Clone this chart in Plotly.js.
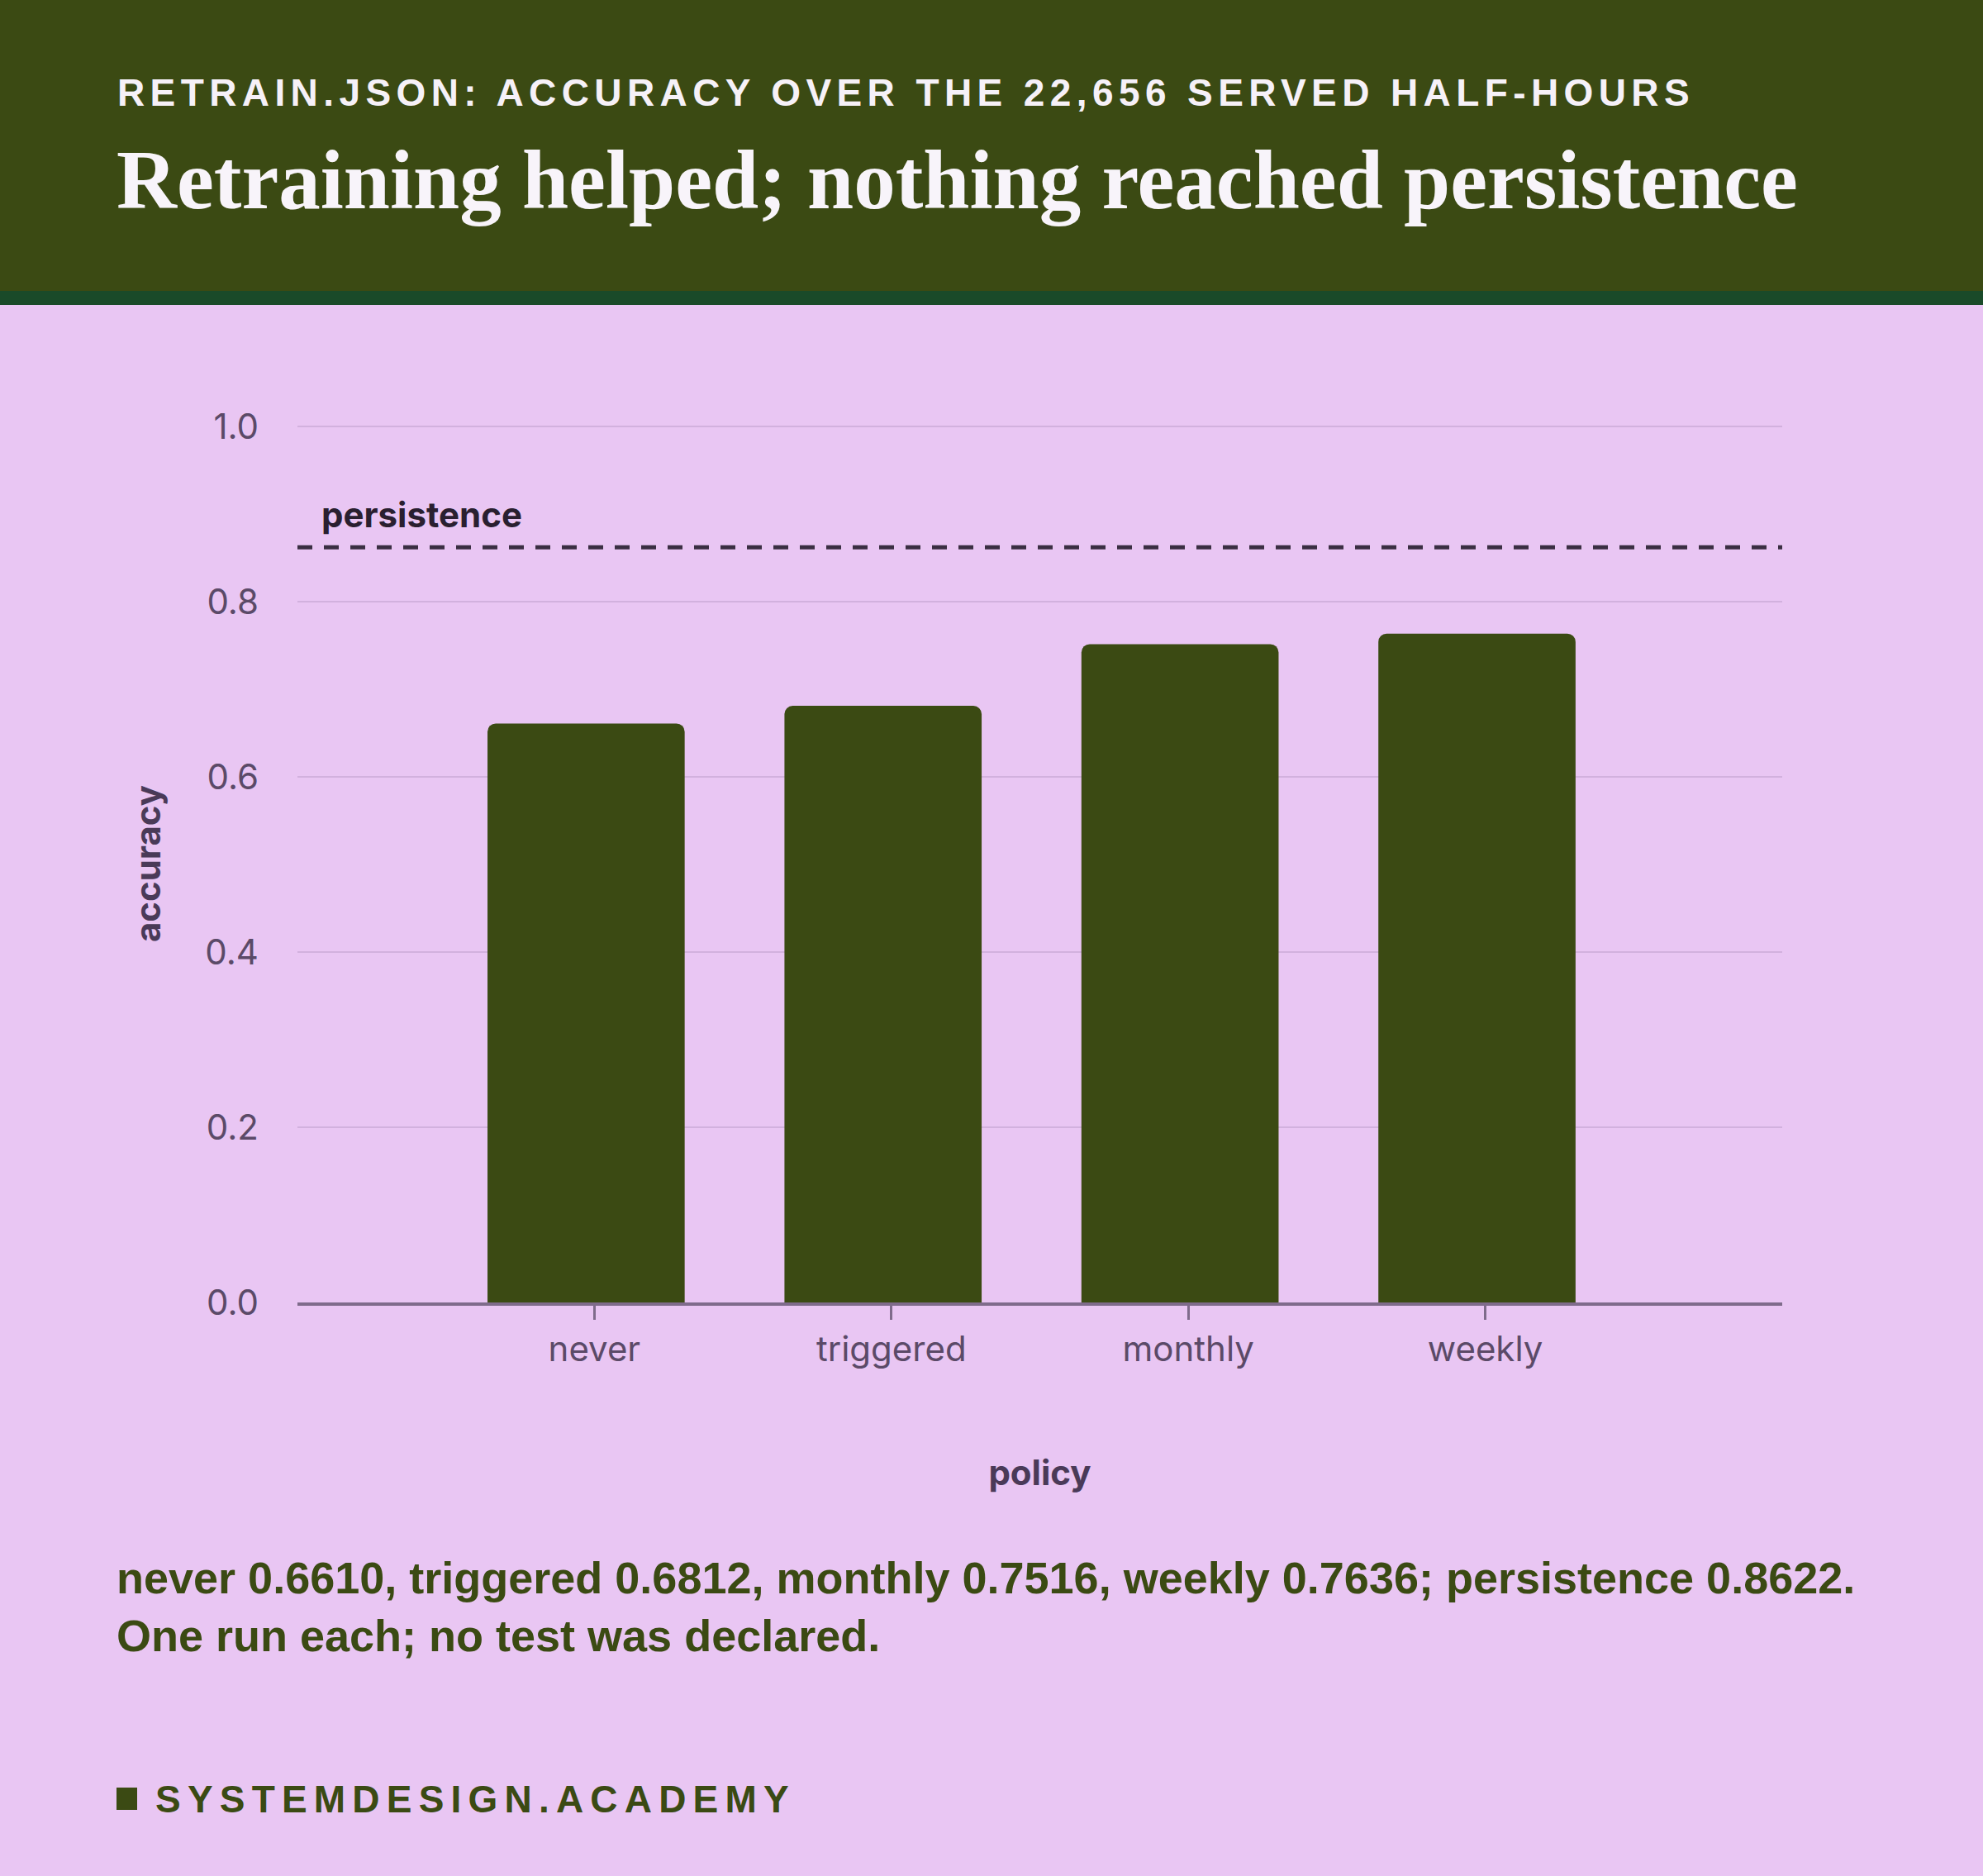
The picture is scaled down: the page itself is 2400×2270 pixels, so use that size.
<!DOCTYPE html>
<html>
<head>
<meta charset="utf-8">
<script src="https://cdn.plot.ly/plotly-3.0.1.min.js"></script>
<style>
  html, body { margin: 0; padding: 0; background: #e9c6f3; }
  #chart { width: 2400px; height: 2270px; }
  .annotation[data-index="0"] text { letter-spacing: 6.4px; }
  .annotation[data-index="4"] text { letter-spacing: 8.2px; }
</style>
</head>
<body>
<div id="chart"></div>
<script>
// ---- data ----
const policies = ['never', 'triggered', 'monthly', 'weekly'];
const accuracy = [0.6610, 0.6812, 0.7516, 0.7636];
const persistence = 0.8622;
const yTickVals = [0, 0.2, 0.4, 0.6, 0.8, 1.0];
const kicker = 'RETRAIN.JSON: ACCURACY OVER THE 22,656 SERVED HALF-HOURS';
const headline = 'Retraining helped; nothing reached persistence';
const note2 = 'One run each; no test was declared.';
const brand = 'SYSTEMDESIGN.ACADEMY';

// ---- style ----
const W = 2400, H = 2270;
const L = 360, R = 2157, T = 514, B = 1576;
const PW = R - L, PH = B - T;
const px = x => (x - L) / PW;
const py = y => (B - y) / PH;
const olive = '#3b4a13';
const bg = '#e9c6f3';
const sans = 'Inter, "Liberation Sans", Arial, sans-serif';
const capsFont = '"Liberation Sans", Arial, sans-serif';

const caption = policies.map((p, i) => p + ' ' + accuracy[i].toFixed(4)).join(', ')
  + '; persistence ' + persistence.toFixed(4) + '.<br>' + note2;

const traces = [{
  type: 'bar',
  x: policies,
  y: accuracy,
  width: 0.664,
  offset: -0.36,
  marker: { color: olive, line: { width: 0 } },
  hoverinfo: 'x+y',
  showlegend: false
}];

const layout = {
  width: W, height: H,
  margin: { l: L, r: W - R, t: T, b: H - B, pad: 0 },
  paper_bgcolor: bg,
  plot_bgcolor: 'rgba(0,0,0,0)',
  barcornerradius: 10,
  showlegend: false,
  xaxis: {
    type: 'category',
    range: [-1, 4],
    showgrid: false,
    zeroline: false,
    showline: true,
    linecolor: '#7f6b8b',
    linewidth: 4,
    ticks: 'outside',
    ticklen: 17,
    tickwidth: 3,
    tickcolor: '#7f6b8b',
    ticklabelstandoff: 0,
    tickfont: { family: sans, size: 42, color: '#5b4a68' },
    title: { text: 'policy', standoff: 112, font: { family: sans, size: 42, weight: 700, color: '#4a3a58' } },
    fixedrange: true
  },
  yaxis: {
    range: [0, 1.002],
    tickvals: yTickVals,
    tickformat: '.1f',
    showgrid: true,
    gridcolor: '#d2b1de',
    gridwidth: 2,
    zeroline: false,
    showline: false,
    ticks: '',
    ticklabelstandoff: 46,
    tickfont: { family: sans, size: 42, color: '#5b4a68' },
    title: { text: 'accuracy', standoff: 40, font: { family: sans, size: 42, weight: 700, color: '#4a3a58' } },
    fixedrange: true
  },
  shapes: [
    { type: 'rect', xref: 'paper', yref: 'paper', x0: px(0), x1: px(W), y0: py(352), y1: py(0),
      fillcolor: olive, line: { width: 0 }, layer: 'below' },
    { type: 'rect', xref: 'paper', yref: 'paper', x0: px(0), x1: px(W), y0: py(369), y1: py(352),
      fillcolor: '#1a4a29', line: { width: 0 }, layer: 'below' },
    { type: 'line', xref: 'paper', yref: 'y', x0: 0, x1: 1, y0: persistence, y1: persistence,
      line: { color: '#3a2e42', width: 5, dash: '18px,14px' } },
    { type: 'rect', xref: 'paper', yref: 'paper', x0: px(141), x1: px(166), y0: py(2190), y1: py(2163),
      fillcolor: olive, line: { width: 0 } }
  ],
  annotations: [
    { text: kicker, xref: 'paper', yref: 'paper', x: px(140), y: py(84), xanchor: 'left', yanchor: 'top',
      align: 'left', showarrow: false, font: { family: capsFont, size: 46, weight: 700, color: '#f6f1f8' } },
    { text: headline, xref: 'paper', yref: 'paper', x: px(139), y: py(160), xanchor: 'left', yanchor: 'top',
      align: 'left', showarrow: false, font: { family: '"Liberation Serif", "DejaVu Serif", serif', size: 101, weight: 700, color: '#f8f4fa' } },
    { text: 'persistence', xref: 'paper', yref: 'y', x: px(387), y: persistence, xanchor: 'left', yanchor: 'bottom',
      yshift: 12, align: 'left', showarrow: false, font: { family: sans, size: 42, weight: 700, color: '#2a1f30' } },
    { text: caption, xref: 'paper', yref: 'paper', x: px(139), y: py(1877), xanchor: 'left', yanchor: 'top',
      align: 'left', showarrow: false, font: { family: capsFont, size: 54, weight: 700, color: olive } },
    { text: brand, xref: 'paper', yref: 'paper', x: px(186), y: py(2149), xanchor: 'left', yanchor: 'top',
      align: 'left', showarrow: false, font: { family: capsFont, size: 46, weight: 700, color: olive } }
  ]
};

Plotly.newPlot('chart', traces, layout, { displayModeBar: false, staticPlot: true });
</script>
</body>
</html>
